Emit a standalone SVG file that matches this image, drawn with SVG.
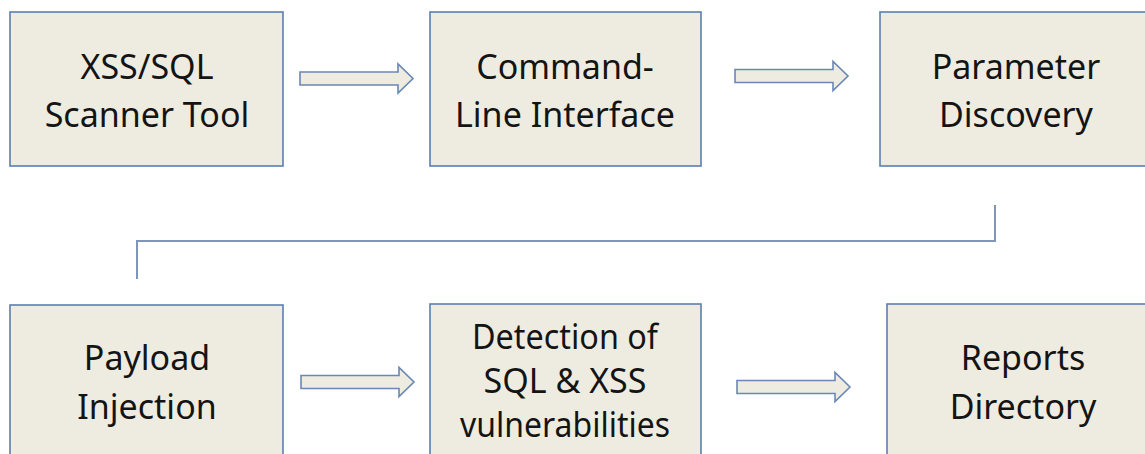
<svg xmlns="http://www.w3.org/2000/svg" width="1145" height="454" viewBox="0 0 1145 454">
  <style>
    .box { fill: #EEECE1; stroke: #5B7FAE; stroke-width: 1.6; }
    .lbl { font-family: "Noto Sans", "Open Sans", sans-serif; font-size: 34px; fill: #141414; text-anchor: middle; }
    .flow { fill: #EEECE1; stroke: #6A88B3; stroke-width: 1.6; stroke-linejoin: miter; }
    .link { fill: none; stroke: #7F96B8; stroke-width: 2; }
  </style>
  <defs>
    <!-- block arrow, origin at the tail middle -->
    <path id="blockArrow" d="M0,-6.5 H98 V-14.5 L113,0 L98,14.5 V6.5 H0 Z"/>
  </defs>

  <rect width="1145" height="454" fill="#FFFFFF"/>

  <g id="connectors">
    <use href="#blockArrow" class="flow" x="300" y="78.5"/>
    <use href="#blockArrow" class="flow" x="735" y="76"/>
    <use href="#blockArrow" class="flow" x="301" y="382"/>
    <use href="#blockArrow" class="flow" x="737" y="387"/>
    <polyline class="link" points="995,205 995,241 137,241 137,279"/>
  </g>

  <g id="scanner-tool">
    <rect class="box" x="10" y="12" width="273" height="154"/>
    <text class="lbl" x="147" y="79">XSS/SQL</text>
    <text class="lbl" x="147" y="127">Scanner Tool</text>
  </g>

  <g id="command-line">
    <rect class="box" x="430" y="12" width="271" height="154"/>
    <text class="lbl" x="565" y="79">Command-</text>
    <text class="lbl" x="565" y="127">Line Interface</text>
  </g>

  <g id="parameter-discovery">
    <rect class="box" x="880" y="12" width="275" height="154"/>
    <text class="lbl" x="1016" y="79">Parameter</text>
    <text class="lbl" x="1016" y="127">Discovery</text>
  </g>

  <g id="payload-injection">
    <rect class="box" x="10" y="305" width="273" height="160"/>
    <text class="lbl" x="147" y="370">Payload</text>
    <text class="lbl" x="147" y="419">Injection</text>
  </g>

  <g id="detection">
    <rect class="box" x="430" y="304" width="271" height="160"/>
    <text class="lbl" x="565" y="349" textLength="186" lengthAdjust="spacingAndGlyphs">Detection of</text>
    <text class="lbl" x="565" y="393">SQL &amp; XSS</text>
    <text class="lbl" x="565" y="437" textLength="210" lengthAdjust="spacingAndGlyphs">vulnerabilities</text>
  </g>

  <g id="reports-directory">
    <rect class="box" x="887" y="304" width="268" height="160"/>
    <text class="lbl" x="1023" y="370">Reports</text>
    <text class="lbl" x="1023" y="419">Directory</text>
  </g>
</svg>
